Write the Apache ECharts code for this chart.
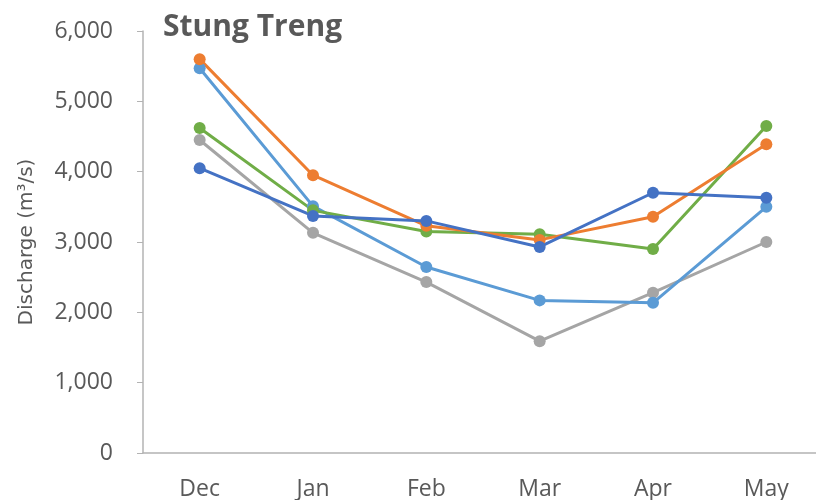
<!DOCTYPE html>
<html>
<head>
<meta charset="utf-8">
<script src="https://cdn.jsdelivr.net/npm/echarts@6/dist/echarts.min.js"></script>
<style>
  html, body { margin: 0; padding: 0; background: #fff; }
  #container { width: 816px; height: 500px; }
</style>
</head>
<body>
<div id="container"></div>
<script>
let months = ['Dec', 'Jan', 'Feb', 'Mar', 'Apr', 'May'];

let grayVals      = [4450, 3130, 2430, 1590, 2280, 3000];
let lightBlueVals = [5470, 3510, 2645, 2170, 2135, 3500];
let greenVals     = [4620, 3450, 3150, 3110, 2900, 4650];
let orangeVals    = [5600, 3950, 3230, 3030, 3360, 4390];
let darkBlueVals  = [4050, 3370, 3300, 2930, 3700, 3630];

let lines = [
    {vals: grayVals, color: '#A5A5A5'},
    {vals: lightBlueVals, color: '#5B9BD5'},
    {vals: greenVals, color: '#70AD47'},
    {vals: orangeVals, color: '#ED7D31'},
    {vals: darkBlueVals, color: '#4472C4'}
];

let textColor = '#595959';
let axisColor = '#B3B3B3';

let dom = document.getElementById('container');
let chart = echarts.init(dom);

chart.setOption({
    animation: false,
    title: {
        text: 'Stung Treng',
        left: 158,
        top: 7,
        textStyle: {
            fontFamily: 'Open Sans',
            fontWeight: 'bold',
            fontSize: 30,
            color: textColor
        }
    },
    grid: {
        left: 143,
        top: 31,
        bottom: 47,
        width: 680,
        outerBoundsMode: 'none'
    },
    xAxis: {
        type: 'category',
        data: months,
        boundaryGap: true,
        axisLine: {lineStyle: {color: axisColor, width: 1.5}},
        axisTick: {inside: true, length: 6, lineStyle: {color: axisColor}},
        axisLabel: {
            fontFamily: 'Open Sans',
            fontSize: 23,
            color: textColor,
            margin: 25
        }
    },
    yAxis: {
        type: 'value',
        min: 0,
        max: 6000,
        interval: 1000,
        name: 'Discharge (m\u00b3/s)',
        nameLocation: 'middle',
        nameGap: 106,
        nameTextStyle: {
            fontFamily: 'DejaVu Sans',
            fontSize: 20,
            color: textColor
        },
        axisLine: {show: true, lineStyle: {color: axisColor, width: 1.5}},
        axisTick: {show: true, length: 6, lineStyle: {color: axisColor}},
        splitLine: {show: false},
        axisLabel: {
            fontFamily: 'Open Sans',
            fontSize: 23,
            color: textColor,
            margin: 30,
            formatter: (v) => v.toLocaleString('en-US')
        }
    },
    series: lines.map((l) => ({
        type: 'line',
        data: l.vals,
        symbol: 'circle',
        symbolSize: 12,
        lineStyle: {width: 3, color: l.color},
        itemStyle: {color: l.color}
    }))
});
</script>
</body>
</html>
